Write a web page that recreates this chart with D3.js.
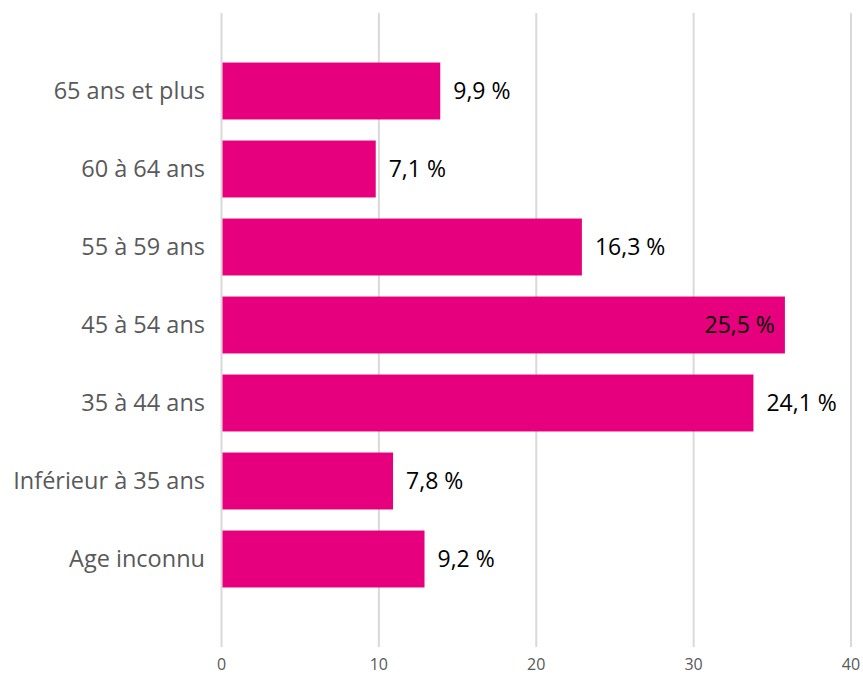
<html>
  <head>
    <script src="https://d3js.org/d3.v7.min.js"></script>
    <style>
      body { margin: 0; background: #fff; }
      text { font-family: "Open Sans", "Noto Sans", sans-serif; }
    </style>
  </head>
  <body>
    <svg class="chart"></svg>
  </body>
  <script>
  // values (bar lengths on the 0-40 axis) and the printed labels
  const categories = ['65 ans et plus', '60 à 64 ans', '55 à 59 ans', '45 à 54 ans', '35 à 44 ans', 'Inférieur à 35 ans', 'Age inconnu'];
  const values = [13.9, 9.8, 22.9, 35.8, 33.8, 10.9, 12.9];
  const labels = ['9,9 %', '7,1 %', '16,3 %', '25,5 %', '24,1 %', '7,8 %', '9,2 %'];
  const ticks = [0, 10, 20, 30, 40];

  function drawBars(){
    let width = 863;
    let height = 674;
    let data = categories.map((c, i) => ({cat: c, value: values[i], label: labels[i]}));

    let svg = d3.select('.chart')
      .attr('width', width)
      .attr('height', height);

    let x = d3.scaleLinear().domain([0, 40]).range([221.5, 851]);
    let y = d3.scaleBand().domain(categories).range([52, 598]).paddingInner(0.27).paddingOuter(0.135);

    // gridlines
    svg.append('g')
      .selectAll('line')
      .data(ticks)
      .join('line')
        .attr('x1', d => x(d)).attr('x2', d => x(d))
        .attr('y1', 13).attr('y2', 647)
        .attr('stroke', '#d9d9d9')
        .attr('stroke-width', 2);

    // tick labels
    svg.append('g')
      .selectAll('text')
      .data(ticks)
      .join('text')
        .attr('x', d => x(d))
        .attr('y', 670)
        .attr('text-anchor', 'middle')
        .attr('font-size', 16)
        .attr('fill', '#595959')
        .text(d => d);

    svg.append('g')
      .selectAll('rect')
      .data(data)
      .join('rect')
        .attr('x', x(0) + 1)
        .attr('y', d => y(d.cat))
        .attr('width', d => x(d.value) - x(0) - 1)
        .attr('height', y.bandwidth())
        .attr('fill', '#e6007e');

    // category labels
    svg.append('g')
      .selectAll('text')
      .data(data)
      .join('text')
        .attr('x', 205)
        .attr('y', d => y(d.cat) + y.bandwidth() / 2)
        .attr('dy', '0.35em')
        .attr('text-anchor', 'end')
        .attr('font-size', 23.5)
        .attr('fill', '#595959')
        .text(d => d.cat);

    // value labels
    svg.append('g')
      .selectAll('text')
      .data(data)
      .join('text')
        .attr('x', d => d.value > 35 ? x(d.value) - 10 : x(d.value) + 13)
        .attr('y', d => y(d.cat) + y.bandwidth() / 2)
        .attr('dy', '0.35em')
        .attr('text-anchor', d => d.value > 35 ? 'end' : 'start')
        .attr('font-size', 23)
        .attr('fill', '#000')
        .text(d => d.label);
  }

  drawBars();
  </script>
</html>
